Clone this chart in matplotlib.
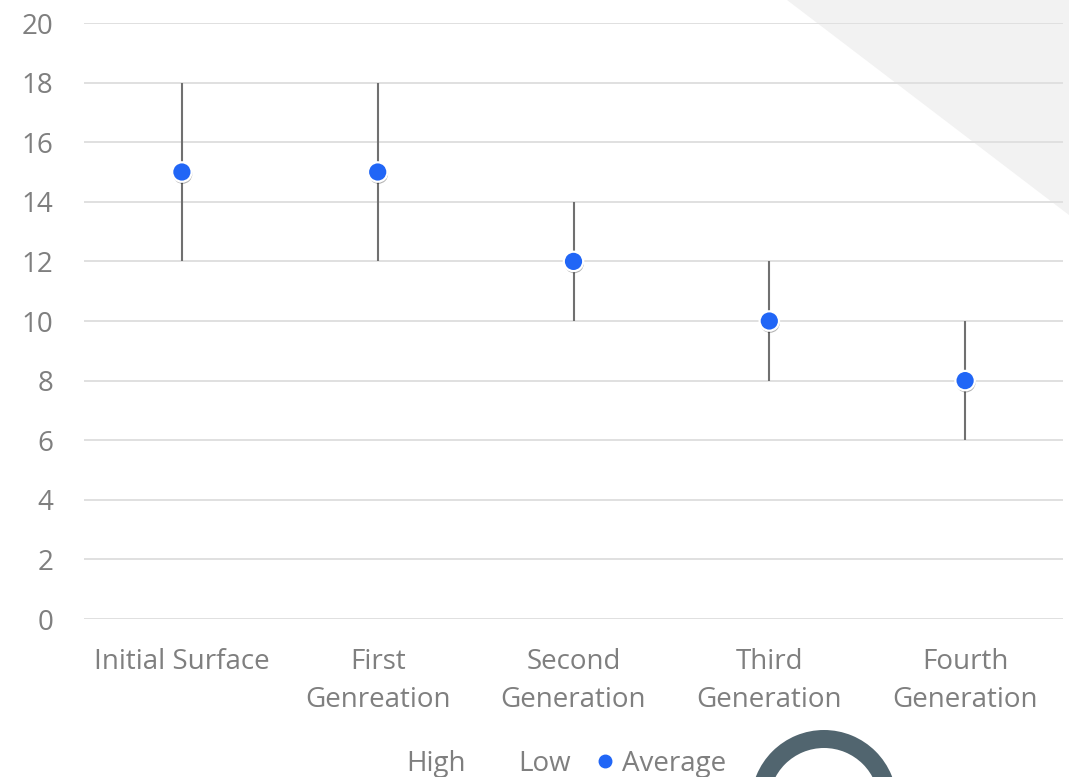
import matplotlib
matplotlib.use('Agg')
import matplotlib.pyplot as plt
import matplotlib.patheffects as pe
from matplotlib.lines import Line2D
from matplotlib.patches import Polygon, Wedge

plt.rcParams['font.family'] = ['Open Sans', 'DejaVu Sans']

# dados do gráfico
categorias = ['Initial Surface', 'First\nGenreation', 'Second\nGeneration',
              'Third\nGeneration', 'Fourth\nGeneration']
alto = [18, 18, 14, 12, 10]
baixo = [12, 12, 10, 8, 6]
media = [15, 15, 12, 10, 8]
yticks = [0, 2, 4, 6, 8, 10, 12, 14, 16, 18, 20]

cinza_texto = '#7f7f7f'
azul = '#2166f6'

fig = plt.figure(figsize=(10.69, 7.77), dpi=100)

# fundo decorativo (triângulo e anel), em pixels
fundo = fig.add_axes([0, 0, 1, 1], zorder=-1)
fundo.set_xlim(0, 1069)
fundo.set_ylim(777, 0)
fundo.axis('off')
fundo.add_patch(Polygon([[787, 0], [1069, 0], [1069, 215]], closed=True,
                        facecolor='#f2f2f2', edgecolor='none'))
fundo.add_patch(Wedge((824, 803), 73, 0, 360, width=18,
                      facecolor='#51656f', edgecolor='none'))

ax = fig.add_axes([84 / 1069, 1 - 619 / 777, (1063 - 84) / 1069, (619 - 23) / 777])
ax.patch.set_alpha(0)

x = list(range(len(categorias)))
ax.vlines(x, baixo, alto, color='#707070', linewidth=1.5, zorder=3)
ax.plot(x, media, linestyle='none', marker='o', markersize=14,
        markerfacecolor=azul, markeredgecolor='white', markeredgewidth=1.6, zorder=4,
        path_effects=[pe.SimplePatchShadow(offset=(0.5, -1.5), shadow_rgbFace='#000000', alpha=0.3),
                      pe.Normal()])

ax.set_xlim(-0.5, len(categorias) - 0.5)
ax.set_ylim(0, 20)
ax.set_yticks(yticks)
ax.set_xticks(x)
ax.set_xticklabels(categorias, linespacing=1.45)
ax.grid(axis='y', color='#e0e0e0', linewidth=1.4)
ax.set_axisbelow(True)
for s in ax.spines.values():
    s.set_visible(False)
ax.tick_params(axis='both', length=0, labelsize=20, labelcolor=cinza_texto)
ax.tick_params(axis='y', pad=22)
ax.tick_params(axis='x', pad=21)

# legenda
handles = [Line2D([], [], linestyle='none'),
           Line2D([], [], linestyle='none'),
           Line2D([], [], linestyle='none', marker='o', markersize=9,
                  markerfacecolor=azul, markeredgecolor=azul)]
fig.legend(handles, ['High', 'Low', 'Average'], loc='center',
           bbox_to_anchor=(553 / 1069, 1 - 764 / 777), ncol=3, frameon=False,
           fontsize=20, labelcolor=cinza_texto, handlelength=0.72,
           handletextpad=0.25, columnspacing=0.9, borderpad=0, borderaxespad=0)

fig.savefig('out.png', dpi=100)
